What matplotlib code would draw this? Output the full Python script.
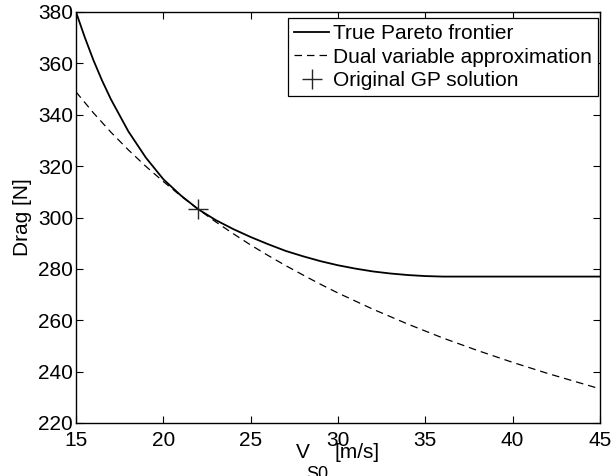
import numpy as np
import matplotlib
matplotlib.use("Agg")
import matplotlib.pyplot as plt

plt.rcParams['font.family'] = ['Liberation Sans', 'DejaVu Sans']

# speed values [m/s]
v_true = [15, 15.5, 16, 16.5, 17, 18, 19, 20, 21, 22, 23, 24, 25, 26, 27, 28,
          29, 30, 31, 32, 33, 34, 35, 36, 37, 38, 40, 42, 45]
# true Pareto frontier, drag [N]
drag_true = [380, 370.2, 361.2, 353.2, 346.0, 333.5, 323.3, 314.9, 308.6,
             303.2, 299, 295.5, 292.4, 289.6, 287, 284.9, 283, 281.4, 280.1,
             279, 278.2, 277.6, 277.2, 277.0, 277, 277, 277, 277, 277]

v_dual = [15, 16, 17, 18, 19, 20, 21, 22, 23, 24, 25, 26, 27, 28, 29, 30,
          32, 34, 36, 38, 40, 42, 45]
# dual variable approximation, drag [N]
drag_dual = [348.9, 340.7, 333.2, 326.3, 319.9, 314.0, 308.4, 303.2, 298.3,
             293.7, 289.3, 285.2, 281.3, 277.6, 274.0, 270.6, 264.3, 258.5,
             253.1, 248.2, 243.6, 239.3, 233.3]

# original GP solution
v_gp = [22.0]
drag_gp = [303.2]

W, H = 611, 476
fig = plt.figure(figsize=(W / 100, H / 100), dpi=100)
ax = fig.add_axes([76 / W, 53 / H, 524 / W, 411 / H])

ax.plot(v_true, drag_true, color='black', lw=1.3, label='True Pareto frontier')
ax.plot(v_dual, drag_dual, color='black', lw=0.9, dashes=(6, 4),
        label='Dual variable approximation')
ax.plot(v_gp, drag_gp, linestyle='none', marker='+', markersize=14,
        markeredgewidth=1.0, color='0.15', label='Original GP solution')

ax.set_xlim(15, 45)
ax.set_ylim(220, 380)
ax.set_xticks(np.arange(15, 46, 5))
ax.set_yticks(np.arange(220, 381, 20))
ax.tick_params(direction='in', top=True, right=True, length=5, width=0.8,
               labelsize=15)
ax.tick_params(axis='x', pad=6)
ax.tick_params(axis='y', pad=2)
for s in ax.spines.values():
    s.set_linewidth(1.0)

# x label written in pieces, subscript sits low like the original
fig.text(296 / W, 1 - 458 / H, 'V', fontsize=15, ha='left', va='baseline')
fig.text(306.5 / W, 1 - 466 / H, 'S0', fontsize=13, ha='left', va='top')
fig.text(334 / W, 1 - 458 / H, '[m/s]', fontsize=15, ha='left', va='baseline')

ax.set_ylabel('Drag [N]', fontsize=15, labelpad=4.5)

leg = ax.legend(loc='upper right', bbox_to_anchor=(598 / W, 1 - 17.7 / H),
                bbox_transform=fig.transFigure, borderaxespad=0,
                fontsize=15, frameon=True, fancybox=False,
                framealpha=1, edgecolor='black', handlelength=1.67,
                handletextpad=0.18, labelspacing=0.22, borderpad=0.3)
leg.get_frame().set_linewidth(0.9)

fig.savefig('out.png', dpi=100)
